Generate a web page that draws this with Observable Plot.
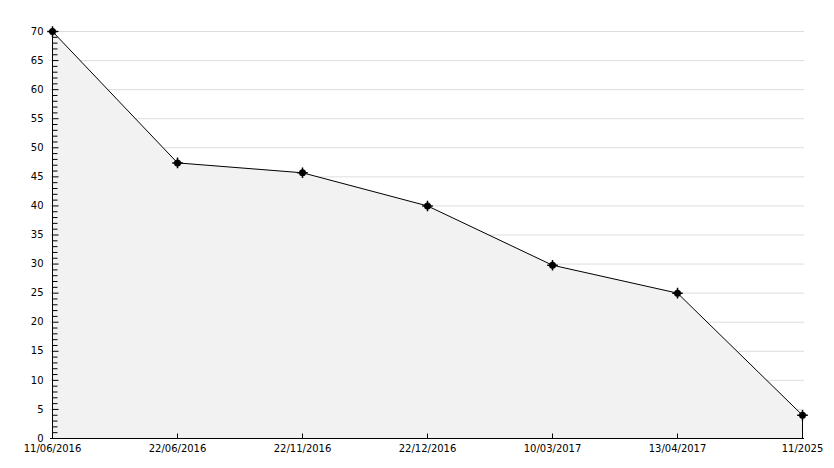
<!DOCTYPE html>
<html><head><meta charset="utf-8">
<script src="https://cdn.jsdelivr.net/npm/d3@7"></script>
<script src="https://cdn.jsdelivr.net/npm/@observablehq/plot@0.6"></script>
<style>body{margin:0;background:#fff}</style>
</head><body><div id="chart"></div>
<script>
const dates = ["11/06/2016","22/06/2016","22/11/2016","22/12/2016","10/03/2017","13/04/2017","11/2025"];
const values = [70, 47.4, 45.7, 40, 29.8, 25, 4];
const yTicks = d3.range(0, 71, 5);
const yMinor = d3.range(0, 71, 1);
const data = dates.map((d, i) => ({date: d, value: values[i]}));
const last = data[data.length - 1];

const hTick = (len) => ({draw(ctx) { ctx.moveTo(0, 0); ctx.lineTo(len, 0); }});
const vTick = (len) => ({draw(ctx) { ctx.moveTo(0, 0); ctx.lineTo(0, -len); }});

const chart = Plot.plot({
  width: 834, height: 468,
  marginLeft: 50, marginRight: 30, marginTop: 31, marginBottom: 30,
  style: {fontFamily: "DejaVu Sans", fontSize: "10px", color: "#000", background: "#fff"},
  x: {type: "point", domain: dates, padding: 0, label: null},
  y: {domain: [0, 70], label: null},
  marks: [
    Plot.ruleY(yTicks.slice(1), {stroke: "#dddddd", strokeWidth: 1}),
    Plot.areaY(data, {x: "date", y: "value", fill: "#f2f2f2", curve: "linear"}),
    Plot.lineY(data, {x: "date", y: "value", stroke: "#000", strokeWidth: 1}),
    Plot.ruleX([last], {x: "date", y1: 0, y2: "value", stroke: "#000"}),
    Plot.dot(yMinor, {x: () => dates[0], y: d => d, symbol: d => d % 5 === 0 ? "major" : "minor", stroke: "#000", strokeWidth: 1, r: 5}),
    Plot.axisY({ticks: yTicks, tickSize: 0, tickPadding: 7, fontSize: 10}),
    Plot.dot(dates.slice(1, -1), {x: d => d, y: () => 0, symbol: vTick(5), stroke: "#000", strokeWidth: 1}),
    Plot.axisX({tickSize: 0, tickPadding: 6, fontSize: 10}),
    Plot.ruleX([dates[0]], {stroke: "#000"}),
    Plot.ruleY([0], {stroke: "#000"}),
    Plot.dot(data, {x: "date", y: "value", r: 3.5, fill: "#000", stroke: "none"}),
    Plot.dot(data, {x: "date", y: "value", symbol: "plus", r: 3.5, stroke: "#000", strokeWidth: 1.5})
  ],
  symbol: {domain: ["major", "minor"], range: [hTick(6), hTick(5)]}
});
document.getElementById("chart").append(chart);
</script>
</body></html>
